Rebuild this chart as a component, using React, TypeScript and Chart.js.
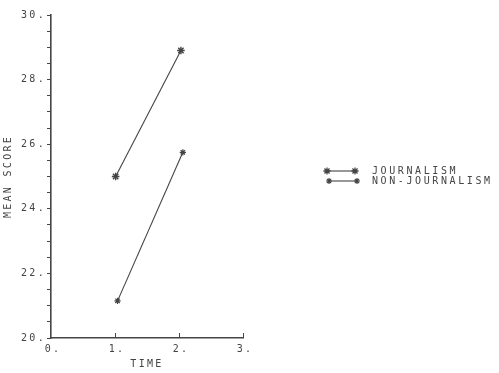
import React, { useEffect, useRef } from 'react';
import { Chart, registerables } from 'chart.js';

Chart.register(...registerables);

const seriesNames = ['JOURNALISM', 'NON-JOURNALISM'];
const journalismX = [1.01, 2.03];
const journalismY = [25.0, 28.9];
const nonJournalismX = [1.04, 2.06];
const nonJournalismY = [21.15, 25.75];
const xTickValues = [0, 1, 2, 3];
const yLabelValues = [20, 22, 24, 26, 28, 30];

const INK = '#444444';
const FONT = '"DejaVu Sans Mono", monospace';
const SPACING = '2.3px';

function drawStar(ctx: CanvasRenderingContext2D, x: number, y: number, r: number, w: number) {
  ctx.save();
  ctx.strokeStyle = INK;
  ctx.lineWidth = w;
  ctx.lineCap = 'butt';
  ctx.beginPath();
  for (let i = 0; i < 4; i++) {
    const a = (i * Math.PI) / 4;
    ctx.moveTo(x - Math.cos(a) * r, y - Math.sin(a) * r);
    ctx.lineTo(x + Math.cos(a) * r, y + Math.sin(a) * r);
  }
  ctx.stroke();
  ctx.restore();
}

const spacingPlugin = {
  id: 'spacing',
  beforeUpdate(chart: any) {
    chart.ctx.letterSpacing = SPACING;
  },
  beforeDraw(chart: any) {
    chart.ctx.letterSpacing = SPACING;
  },
};

const extrasPlugin = {
  id: 'extras',
  afterDraw(chart: any) {
    const ctx = chart.ctx as CanvasRenderingContext2D;
    const xs = chart.scales.x;
    const area = chart.chartArea;
    ctx.save();
    ctx.strokeStyle = INK;
    ctx.lineWidth = 1;
    ctx.beginPath();
    xTickValues.forEach((v) => {
      if (v === 0) return;
      const px = Math.round(xs.getPixelForValue(v)) + 0.5;
      ctx.moveTo(px, area.bottom);
      ctx.lineTo(px, area.bottom - 5);
    });
    ctx.stroke();
    ctx.restore();

    const rows = [
      { name: seriesNames[0], y: 171, x0: 327, x1: 355, r: 3.6, w: 1.3 },
      { name: seriesNames[1], y: 181, x0: 329, x1: 357, r: 3.0, w: 1.2 },
    ];
    ctx.save();
    ctx.letterSpacing = '2.6px';
    rows.forEach((row) => {
      ctx.strokeStyle = INK;
      ctx.lineWidth = 1.1;
      ctx.beginPath();
      ctx.moveTo(row.x0, row.y);
      ctx.lineTo(row.x1, row.y);
      ctx.stroke();
      drawStar(ctx, row.x0, row.y, row.r, row.w);
      drawStar(ctx, row.x1, row.y, row.r, row.w);
      ctx.fillStyle = INK;
      ctx.font = `10px ${FONT}`;
      ctx.textAlign = 'left';
      ctx.textBaseline = 'middle';
      ctx.fillText(row.name, 372, row.y);
    });
    ctx.restore();
  },
};

export default function App() {
  const ref = useRef<HTMLCanvasElement | null>(null);

  useEffect(() => {
    document.body.style.margin = '0';
    const canvas = ref.current;
    if (!canvas) return;
    const chart = new Chart(canvas, {
      type: 'line',
      data: {
        datasets: [
          {
            label: seriesNames[0],
            data: journalismX.map((x, i) => ({ x, y: journalismY[i] })),
            borderColor: INK,
            backgroundColor: INK,
            borderWidth: 1.1,
            pointStyle: 'star',
            pointRadius: 3.8,
            pointBorderWidth: 1.4,
            pointBorderColor: INK,
          },
          {
            label: seriesNames[1],
            data: nonJournalismX.map((x, i) => ({ x, y: nonJournalismY[i] })),
            borderColor: INK,
            backgroundColor: INK,
            borderWidth: 1.1,
            pointStyle: 'star',
            pointRadius: 3.1,
            pointBorderWidth: 1.2,
            pointBorderColor: INK,
          },
        ],
      },
      options: {
        responsive: false,
        animation: false,
        layout: { padding: { top: 15, right: 256, left: 0, bottom: 0 } },
        plugins: { legend: { display: false }, tooltip: { enabled: false } },
        scales: {
          x: {
            type: 'linear',
            min: 0,
            max: 3,
            afterFit: (s: any) => { s.height = 35; },
            grid: { drawOnChartArea: false, drawTicks: false },
            border: { display: true, color: INK, width: 1.6 },
            ticks: {
              stepSize: 1,
              color: INK,
              font: { family: FONT, size: 10 },
              padding: 5,
              labelOffset: 2,
              maxRotation: 0,
              callback: (v: any) => `${v}.`,
            },
            title: {
              display: true,
              text: 'TIME',
              color: INK,
              font: { family: FONT, size: 10 },
              padding: { top: 0, bottom: 3 },
            },
          },
          y: {
            type: 'linear',
            min: 20,
            max: 30,
            afterFit: (s: any) => { s.width = 51; },
            grid: { drawOnChartArea: false, drawTicks: true, tickLength: 4, color: INK, lineWidth: 1 },
            border: { display: true, color: INK, width: 1.6 },
            ticks: {
              stepSize: 0.5,
              autoSkip: false,
              color: INK,
              font: { family: FONT, size: 10 },
              padding: 1,
              callback: (v: any) => (yLabelValues.includes(Number(v)) ? `${v}.` : ''),
            },
            title: {
              display: true,
              text: 'MEAN SCORE',
              color: INK,
              font: { family: FONT, size: 10 },
              padding: { top: 2, bottom: 0 },
            },
          },
        },
      },
      plugins: [spacingPlugin, extrasPlugin],
    } as any);
    return () => chart.destroy();
  }, []);

  return (
    <div style={{ position: 'fixed', left: 0, top: 0, width: 499, height: 373, background: '#fff' }}>
      <canvas ref={ref} width={499} height={373} />
    </div>
  );
}
